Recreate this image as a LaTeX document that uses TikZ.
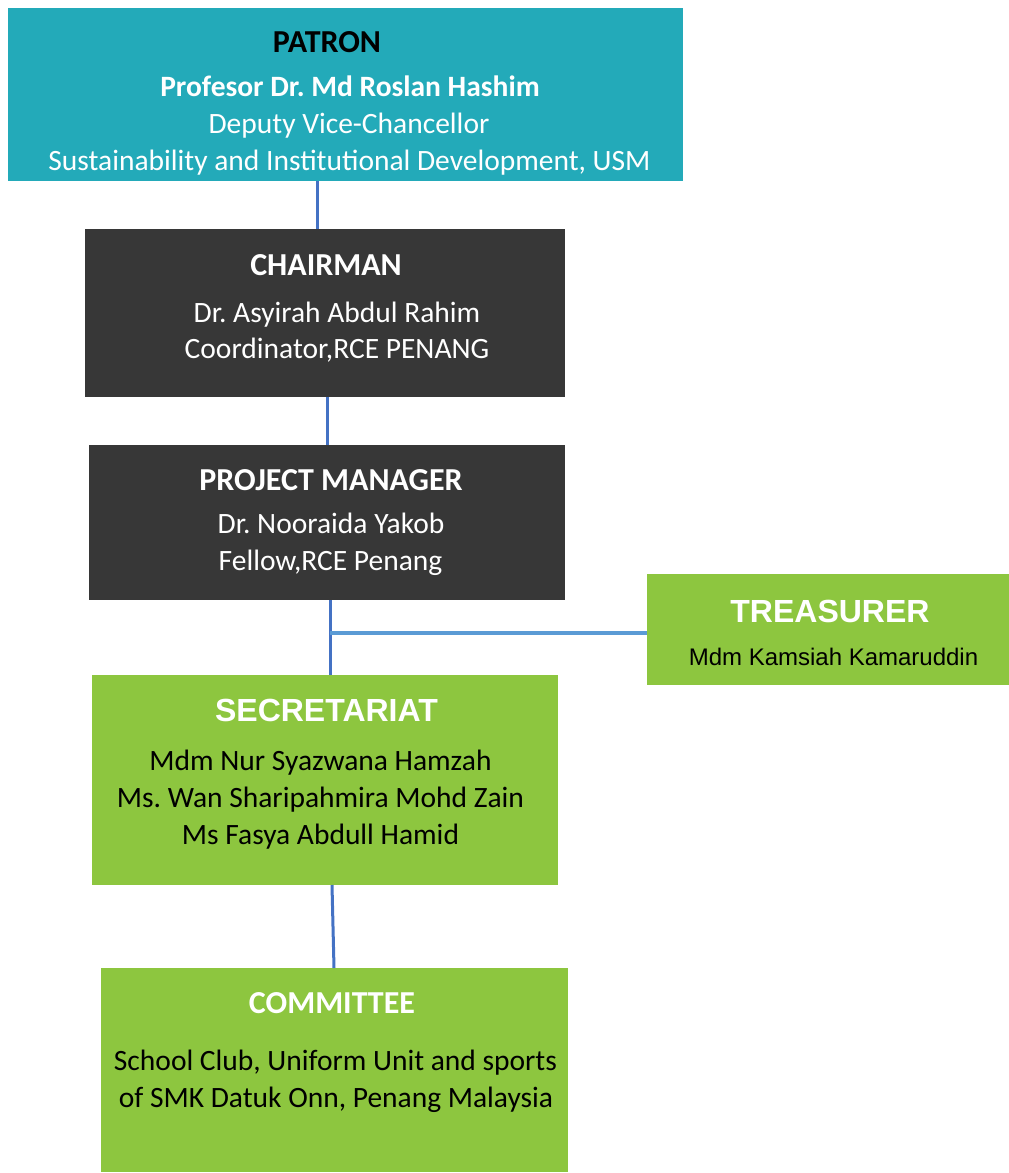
\documentclass[tikz,border=0pt]{standalone}
\usepackage{fontspec}
\setmainfont{Carlito}
\newfontfamily\arialf{Liberation Sans}
\definecolor{teal}{HTML}{23AAB9}
\definecolor{darkbox}{HTML}{373737}
\definecolor{greenbox}{HTML}{8DC63F}
\definecolor{linkblue}{HTML}{4472C4}
\definecolor{linklight}{HTML}{5B9BD5}
\frenchspacing
\begin{document}
\begin{tikzpicture}[x=1pt,y=-1pt,
  box/.style={inner sep=0pt,outer sep=0pt,draw=none},
  txt/.style={inner sep=0pt,anchor=base,font=\fontsize{29.5}{35}\selectfont},
  ttl/.style={inner sep=0pt,anchor=base,font=\fontsize{32}{38}\selectfont\bfseries},
  bttl/.style={inner sep=0pt,anchor=base,font=\fontsize{29.5}{35}\selectfont\bfseries},
  attl/.style={inner sep=0pt,anchor=base,font=\arialf\fontsize{32}{38}\selectfont\bfseries,text=white},
  conn/.style={draw=linkblue,line width=3pt},
  connh/.style={draw=linklight,line width=4pt}]
\useasboundingbox (0,0) rectangle (1009,1173);
% boxes
\node[box,fill=teal,minimum width=675pt,minimum height=173pt] (patron) at (345.5,94.5) {};
\node[box,fill=darkbox,minimum width=480pt,minimum height=168pt] (chair) at (325,313) {};
\node[box,fill=darkbox,minimum width=476pt,minimum height=155pt] (pm) at (327,522.5) {};
\node[box,fill=greenbox,minimum width=362pt,minimum height=111pt] (treas) at (828,629.5) {};
\node[box,fill=greenbox,minimum width=466pt,minimum height=210pt] (secr) at (325,780) {};
\node[box,fill=greenbox,minimum width=467pt,minimum height=204pt] (comm) at (334.5,1070) {};
% connectors
\draw[conn] ([xshift=-28.5pt]patron.south) -- ([xshift=-28.5pt]patron.south |- chair.north);
\draw[conn] ([xshift=2pt]chair.south) -- ([xshift=2pt]chair.south |- pm.north);
\draw[conn] ([xshift=3pt]pm.south) -- ([xshift=3pt]pm.south |- secr.north);
\coordinate (tj) at ([yshift=-3.5pt]treas.west -| pm.south);
\draw[connh] ([yshift=-3.5pt]treas.west) -- ([xshift=3pt]tj);
\draw[conn] ([xshift=7pt]secr.south) -- ([xshift=-0.5pt]comm.north);
% patron text
\node[ttl,text=black] (pt1) at (327,52) {PATRON};
\node[bttl,text=white] (pt2) at (350,96) {Profesor Dr. Md Roslan Hashim};
\node[txt,text=white] (pt3) at (349,133) {Deputy Vice-Chancellor};
\node[txt,text=white] (pt4) at (349.5,170) {Sustainability and Institutional Development, USM};
% chairman text
\node[ttl,text=white] (ct1) at (326,275) {CHAIRMAN};
\node[txt,text=white] (ct2) at (337,322) {Dr. Asyirah Abdul Rahim};
\node[txt,text=white] (ct3) at (337,358) {Coordinator,RCE PENANG};
% project manager text
\node[ttl,text=white] (mt1) at (331,490) {PROJECT MANAGER};
\node[txt,text=white] (mt2) at (331,533) {Dr. Nooraida Yakob};
\node[txt,text=white] (mt3) at (330.5,570) {Fellow,RCE Penang};
% treasurer text
\node[attl] (tt1) at (830,622) {TREASURER};
\node[inner sep=0pt,anchor=base,font=\arialf\fontsize{24}{29}\selectfont,text=black] (tt2) at (833.5,665) {Mdm Kamsiah Kamaruddin};
% secretariat text
\node[attl] (st1) at (326.5,721) {SECRETARIAT};
\node[txt,text=black] (st2) at (320.5,770) {Mdm Nur Syazwana Hamzah};
\node[txt,text=black] (st3) at (320.5,807) {Ms. Wan Sharipahmira Mohd Zain};
\node[txt,text=black] (st4) at (320.5,844) {Ms Fasya Abdull Hamid};
% committee text
\node[ttl,text=white] (kt1) at (332,1013) {COMMITTEE};
\node[txt,text=black] (kt2) at (335.5,1070) {School Club, Uniform Unit and sports};
\node[txt,text=black] (kt3) at (336,1107) {of SMK Datuk Onn, Penang Malaysia};
\end{tikzpicture}
\end{document}
